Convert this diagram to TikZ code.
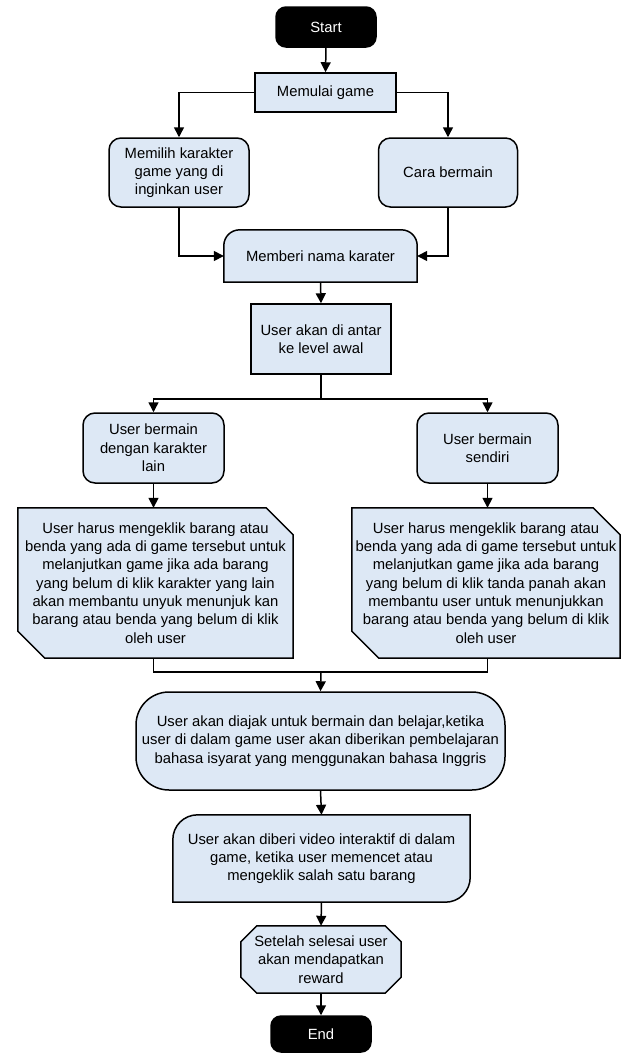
\documentclass[tikz,border=0pt]{standalone}
\usepackage{fontspec}
\setmainfont{Liberation Sans}
\usetikzlibrary{arrows.meta,backgrounds,calc}
\definecolor{boxfill}{RGB}{221,232,245}
\begin{document}
\begin{tikzpicture}[x=1pt,y=-1pt,
  every node/.style={font=\fontsize{14.8}{18.3}\selectfont, align=center, inner sep=0pt},
  proc/.style={draw=black, line width=1.5pt, fill=boxfill},
  rbox/.style={proc, rounded corners=12pt},
  term/.style={draw=black, line width=1.5pt, fill=black, text=white, rounded corners=10pt},
  arr/.style={line width=1.5pt, -{Triangle[length=10pt,width=10pt]}},
  con/.style={line width=1.5pt},
  shp/.style={draw=black, line width=1.5pt, fill=boxfill}
]
\useasboundingbox (0,0) rectangle (621,1053);

\node[term, minimum width=100pt, minimum height=40pt] (start) at (326,27) {Start};
\node[proc, minimum width=141pt, minimum height=39pt] (mulai) at (325.5,92.5) {Memulai game};
\node[rbox, minimum width=140pt, minimum height=69pt] (pilih) at (179,172.5) {Memilih karakter\\game yang di\\inginkan user};
\node[rbox, minimum width=139pt, minimum height=69pt] (cara) at (448,172.5) {Cara bermain};
\node[minimum width=193pt, minimum height=52pt] (nama) at (320.5,256) {Memberi nama karater};
\node[proc, minimum width=140pt, minimum height=70pt] (antar) at (321,339) {User akan di antar\\ke level awal};
\node[rbox, minimum width=141pt, minimum height=70pt] (lain) at (153.5,448) {User bermain\\dengan karakter\\lain};
\node[rbox, minimum width=141pt, minimum height=70pt] (sendiri) at (487.5,448) {User bermain\\sendiri};
\node[minimum width=275pt, minimum height=150pt] (harus1) at (155.5,583) {User harus mengeklik barang atau\\benda yang ada di game tersebut untuk\\melanjutkan game jika ada barang\\yang belum di klik karakter yang lain\\akan membantu unyuk menunjuk kan\\barang atau benda yang belum di klik\\oleh user};
\node[minimum width=268pt, minimum height=150pt] (harus2) at (486,583) {User harus mengeklik barang atau\\benda yang ada di game tersebut untuk\\melanjutkan game jika ada barang\\yang belum di klik tanda panah akan\\membantu user untuk menunjukkan\\barang atau benda yang belum di klik\\oleh user};
\node[proc, rounded corners=33pt, minimum width=369pt, minimum height=98pt] (diajak) at (320.5,741) {User akan diajak untuk bermain dan belajar,ketika\\user di dalam game user akan diberikan pembelajaran\\bahasa isyarat yang menggunakan bahasa Inggris};
\node[minimum width=297pt, minimum height=87pt] (video) at (321.5,858.5) {User akan diberi video interaktif di dalam\\game, ketika user memencet atau\\mengeklik salah satu barang};
\node[minimum width=160pt, minimum height=67pt] (reward) at (321,959.5) {Setelah selesai user\\akan mendapatkan\\reward};
\node[term, minimum width=100pt, minimum height=36pt] (end) at (321,1034) {End};

\begin{scope}[on background layer]
\draw[shp] (nama.south west) -- ([yshift=-16pt]nama.north west)
  .. controls ([yshift=-7pt]nama.north west) and ([xshift=7pt]nama.north west) .. ([xshift=16pt]nama.north west)
  -- ([xshift=-16pt]nama.north east)
  .. controls ([xshift=-7pt]nama.north east) and ([yshift=-7pt]nama.north east) .. ([yshift=-16pt]nama.north east)
  -- (nama.south east) -- cycle;
\draw[shp] (harus1.north west) -- ([xshift=-27pt]harus1.north east) -- ([yshift=-27pt]harus1.north east)
  -- (harus1.south east) -- ([xshift=27pt]harus1.south west) -- ([yshift=27pt]harus1.south west) -- cycle;
\draw[shp] (harus2.north west) -- ([xshift=-27pt]harus2.north east) -- ([yshift=-27pt]harus2.north east)
  -- (harus2.south east) -- ([xshift=27pt]harus2.south west) -- ([yshift=27pt]harus2.south west) -- cycle;
\draw[shp] ([yshift=-25pt]video.north west)
  .. controls ([yshift=-11pt]video.north west) and ([xshift=11pt]video.north west) .. ([xshift=25pt]video.north west)
  -- (video.north east) -- ([yshift=25pt]video.south east)
  .. controls ([yshift=11pt]video.south east) and ([xshift=-11pt]video.south east) .. ([xshift=-25pt]video.south east)
  -- (video.south west) -- cycle;
\draw[shp] ([xshift=16pt]reward.north west) -- ([xshift=-16pt]reward.north east) -- ([yshift=-16pt]reward.north east)
  -- ([yshift=16pt]reward.south east) -- ([xshift=-16pt]reward.south east) -- ([xshift=16pt]reward.south west)
  -- ([yshift=16pt]reward.south west) -- ([yshift=-16pt]reward.north west) -- cycle;
\end{scope}

\draw[arr] (start.south) -- (mulai.north);
\draw[arr] (mulai.west) -| (pilih.north);
\draw[arr] (mulai.east) -| (cara.north);
\draw[arr] (pilih.south) |- (nama.west);
\draw[arr] (cara.south) |- (nama.east);
\draw[arr] (nama.south) -- (antar.north);
\coordinate (split) at (321,399);
\draw[con] (antar.south) -- (split);
\draw[arr] (split) -| (lain.north);
\draw[arr] (split) -| (sendiri.north);
\draw[arr] (lain.south) -- (lain.south |- harus1.north);
\draw[arr] (sendiri.south) -- (sendiri.south |- harus2.north);
\coordinate (join) at (321,672);
\draw[con] (lain.south |- harus1.south) |- (join) -| (sendiri.south |- harus2.south);
\draw[arr] (join) -- (diajak.north);
\draw[arr] (diajak.south) -- (video.north);
\draw[arr] (video.south) -- (reward.north);
\draw[arr] (reward.south) -- (end.north);
\end{tikzpicture}
\end{document}
